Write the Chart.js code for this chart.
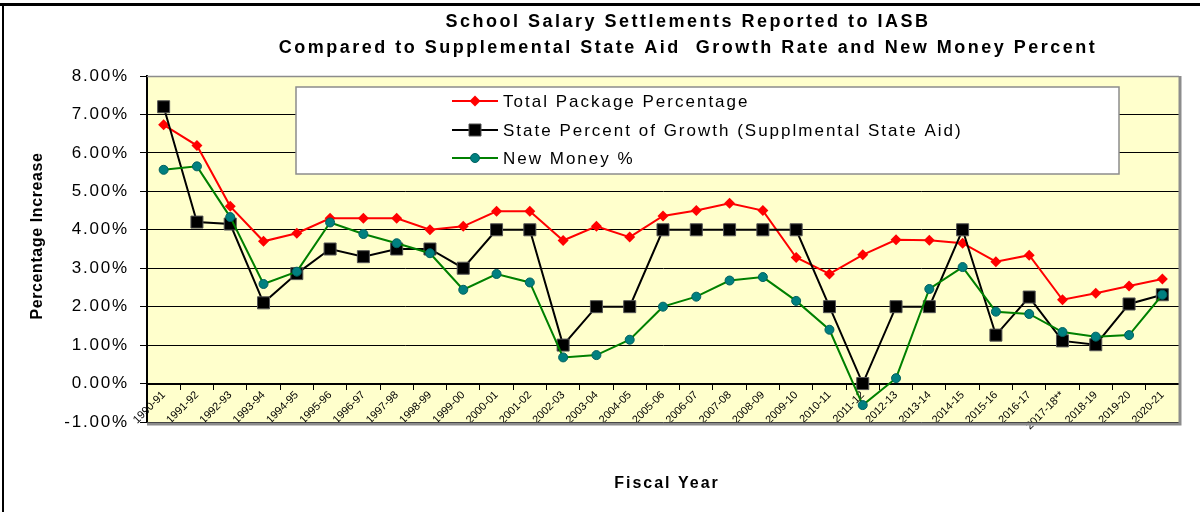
<!DOCTYPE html>
<html>
<head>
<meta charset="utf-8">
<script src="https://cdn.jsdelivr.net/npm/chart.js@4.4.0/dist/chart.umd.min.js"></script>
<style>
	html, body { margin: 0; padding: 0; background: #fff; }
	#wrap { width: 1200px; height: 512px; position: relative; }
</style>
</head>
<body>
<div id="wrap"><canvas id="chart" width="1200" height="512"></canvas></div>
<script>
'use strict';

// fiscal years on the category axis
var years = [
	'1990-91', '1991-92', '1992-93', '1993-94', '1994-95', '1995-96',
	'1996-97', '1997-98', '1998-99', '1999-00', '2000-01', '2001-02',
	'2002-03', '2003-04', '2004-05', '2005-06', '2006-07', '2007-08',
	'2008-09', '2009-10', '2010-11', '2011-12', '2012-13', '2013-14',
	'2014-15', '2015-16', '2016-17', '2017-18**', '2018-19', '2019-20',
	'2020-21'
];

// series values, in percent
var totalPackage = [
	6.73, 6.19, 4.61, 3.70, 3.91, 4.30, 4.30, 4.30, 4.00, 4.09, 4.48,
	4.48, 3.72, 4.09, 3.81, 4.36, 4.50, 4.69, 4.50, 3.28, 2.85, 3.35,
	3.74, 3.73, 3.65, 3.17, 3.34, 2.18, 2.35, 2.54, 2.72
];
var stateGrowth = [
	7.20, 4.20, 4.15, 2.10, 2.86, 3.50, 3.30, 3.50, 3.50, 3.00, 4.00,
	4.00, 1.00, 2.00, 2.00, 4.00, 4.00, 4.00, 4.00, 4.00, 2.00, 0.00,
	2.00, 2.00, 4.00, 1.26, 2.25, 1.11, 1.01, 2.07, 2.31
];
var newMoney = [
	5.56, 5.65, 4.33, 2.59, 2.91, 4.19, 3.89, 3.65, 3.39, 2.44, 2.85,
	2.63, 0.68, 0.74, 1.14, 2.00, 2.26, 2.68, 2.77, 2.15, 1.40, -0.56,
	0.14, 2.46, 3.03, 1.87, 1.81, 1.34, 1.22, 1.26, 2.31
];

var titleLines = [
	'School Salary Settlements Reported to IASB',
	'Compared to Supplemental State Aid  Growth Rate and New Money Percent'
];

var FONT = '"Liberation Sans", Arial, sans-serif';

/**
 * Page frame, plot background, plot border and free texts
 */
var framePlugin = {
	id: 'frame',
	beforeDraw: function (chart) {
		var ctx = chart.ctx,
			area = chart.chartArea;
		ctx.save();
		ctx.fillStyle = '#ffffcc';
		ctx.fillRect(area.left, area.top, area.right - area.left, area.bottom - area.top);
		ctx.restore();
	},
	beforeDatasetsDraw: function (chart) {
		var ctx = chart.ctx,
			area = chart.chartArea;
		ctx.save();
		ctx.strokeStyle = '#8c8c8c';
		ctx.lineWidth = 1.5;
		ctx.beginPath();
		ctx.moveTo(area.left, area.top + 0.5);
		ctx.lineTo(area.right, area.top + 0.5);
		ctx.stroke();
		ctx.lineWidth = 3;
		ctx.beginPath();
		ctx.moveTo(area.right + 1, area.top);
		ctx.lineTo(area.right + 1, area.bottom + 2);
		ctx.lineTo(area.left, area.bottom + 2);
		ctx.stroke();
		ctx.restore();
	},
	afterDraw: function (chart) {
		var ctx = chart.ctx;
		ctx.save();
		ctx.fillStyle = '#000';
		ctx.fillRect(0, 3, chart.width, 3);
		ctx.fillRect(2, 3, 2, chart.height);

		// titles
		ctx.textAlign = 'center';
		ctx.textBaseline = 'middle';
		ctx.letterSpacing = '2.5px';
		ctx.font = 'bold 18px ' + FONT;
		ctx.fillText(titleLines[0], 688, 22);
		ctx.fillText(titleLines[1], 688, 48);
		ctx.letterSpacing = '2px';
		ctx.font = 'bold 16px ' + FONT;
		ctx.fillText('Fiscal Year', 667, 484);

		// y axis title
		ctx.letterSpacing = '0.6px';
		ctx.font = 'bold 16px ' + FONT;
		ctx.translate(38, 236);
		ctx.rotate(-Math.PI / 2);
		ctx.fillText('Percentage Increase', 0, 0);
		ctx.restore();
	}
};

/**
 * Legend box drawn inside the plot, styles taken from the datasets
 */
var legendPlugin = {
	id: 'boxLegend',
	afterDraw: function (chart) {
		var ctx = chart.ctx,
			box = { x: 296, y: 87, w: 823, h: 87 },
			rowY = [101, 130, 158];
		ctx.save();
		ctx.fillStyle = '#fff';
		ctx.fillRect(box.x, box.y, box.w, box.h);
		ctx.strokeStyle = '#8c8c8c';
		ctx.lineWidth = 1.5;
		ctx.strokeRect(box.x, box.y, box.w, box.h);

		chart.data.datasets.forEach(function (ds, row) {
			var y = rowY[row];
			ctx.strokeStyle = ds.borderColor;
			ctx.lineWidth = 2;
			ctx.beginPath();
			ctx.moveTo(452, y);
			ctx.lineTo(498, y);
			ctx.stroke();
			ctx.fillStyle = ds.pointBackgroundColor;
			ctx.strokeStyle = ds.pointBorderColor;
			ctx.lineWidth = ds.pointBorderWidth;
			Chart.helpers.drawPoint(ctx, {
				pointStyle: ds.pointStyle,
				radius: ds.pointRadius,
				borderWidth: ds.pointBorderWidth,
				rotation: 0
			}, 475, y);
			ctx.fillStyle = '#000';
			ctx.font = '17px ' + FONT;
			ctx.letterSpacing = '2px';
			ctx.textAlign = 'left';
			ctx.textBaseline = 'middle';
			ctx.fillText(ds.label, 503, y + 1);
		});
		ctx.restore();
	}
};

new Chart(document.getElementById('chart'), {
	type: 'line',
	data: {
		labels: years,
		datasets: [{
			label: 'Total Package Percentage',
			data: totalPackage,
			borderColor: '#ff0000',
			borderWidth: 2,
			pointStyle: 'rectRot',
			pointRadius: 5.5,
			pointBackgroundColor: '#ff0000',
			pointBorderColor: '#ff0000',
			pointBorderWidth: 0,
			order: 3
		}, {
			label: 'State Percent of Growth (Supplmental State Aid)',
			data: stateGrowth,
			borderColor: '#000000',
			borderWidth: 2,
			pointStyle: 'rect',
			pointRadius: 8.5,
			pointBackgroundColor: '#000000',
			pointBorderColor: '#555555',
			pointBorderWidth: 1,
			order: 2
		}, {
			label: 'New Money %',
			data: newMoney,
			borderColor: '#008000',
			borderWidth: 2,
			pointStyle: 'circle',
			pointRadius: 4.5,
			pointBackgroundColor: '#008080',
			pointBorderColor: '#006060',
			pointBorderWidth: 1,
			order: 1
		}]
	},
	options: {
		responsive: false,
		animation: false,
		layout: {
			padding: { left: 4, top: 76, right: 21, bottom: 90 }
		},
		plugins: {
			legend: { display: false },
			title: { display: false },
			tooltip: { enabled: false }
		},
		elements: {
			line: { tension: 0 }
		},
		scales: {
			y: {
				min: -1,
				max: 8,
				ticks: {
					stepSize: 1,
					color: '#000',
					padding: 11,
					font: { family: FONT, size: 17 },
					callback: function (v) {
						return v.toFixed(2) + '%';
					}
				},
				grid: {
					color: '#000',
					lineWidth: 1,
					tickLength: 7
				},
				border: { color: '#000', width: 2 },
				afterFit: function (scale) {
					scale.width = 143;
					// Excel spaces the value labels out a little
					if (!scale.spacedLabels) {
						var drawLabels = scale.drawLabels;
						scale.drawLabels = function (area) {
							this.ctx.letterSpacing = '1.8px';
							drawLabels.call(this, area);
							this.ctx.letterSpacing = '0px';
						};
						scale.spacedLabels = true;
					}
				}
			},
			x: {
				position: { y: 0 },
				offset: true,
				ticks: {
					color: '#000',
					autoSkip: false,
					maxRotation: 45,
					minRotation: 45,
					padding: 0,
					font: { family: FONT, size: 11 }
				},
				grid: {
					drawOnChartArea: false,
					drawTicks: true,
					tickLength: 5,
					color: '#000',
					offset: true
				},
				border: { color: '#000', width: 2 }
			}
		}
	},
	plugins: [framePlugin, legendPlugin]
});
</script>
</body>
</html>
